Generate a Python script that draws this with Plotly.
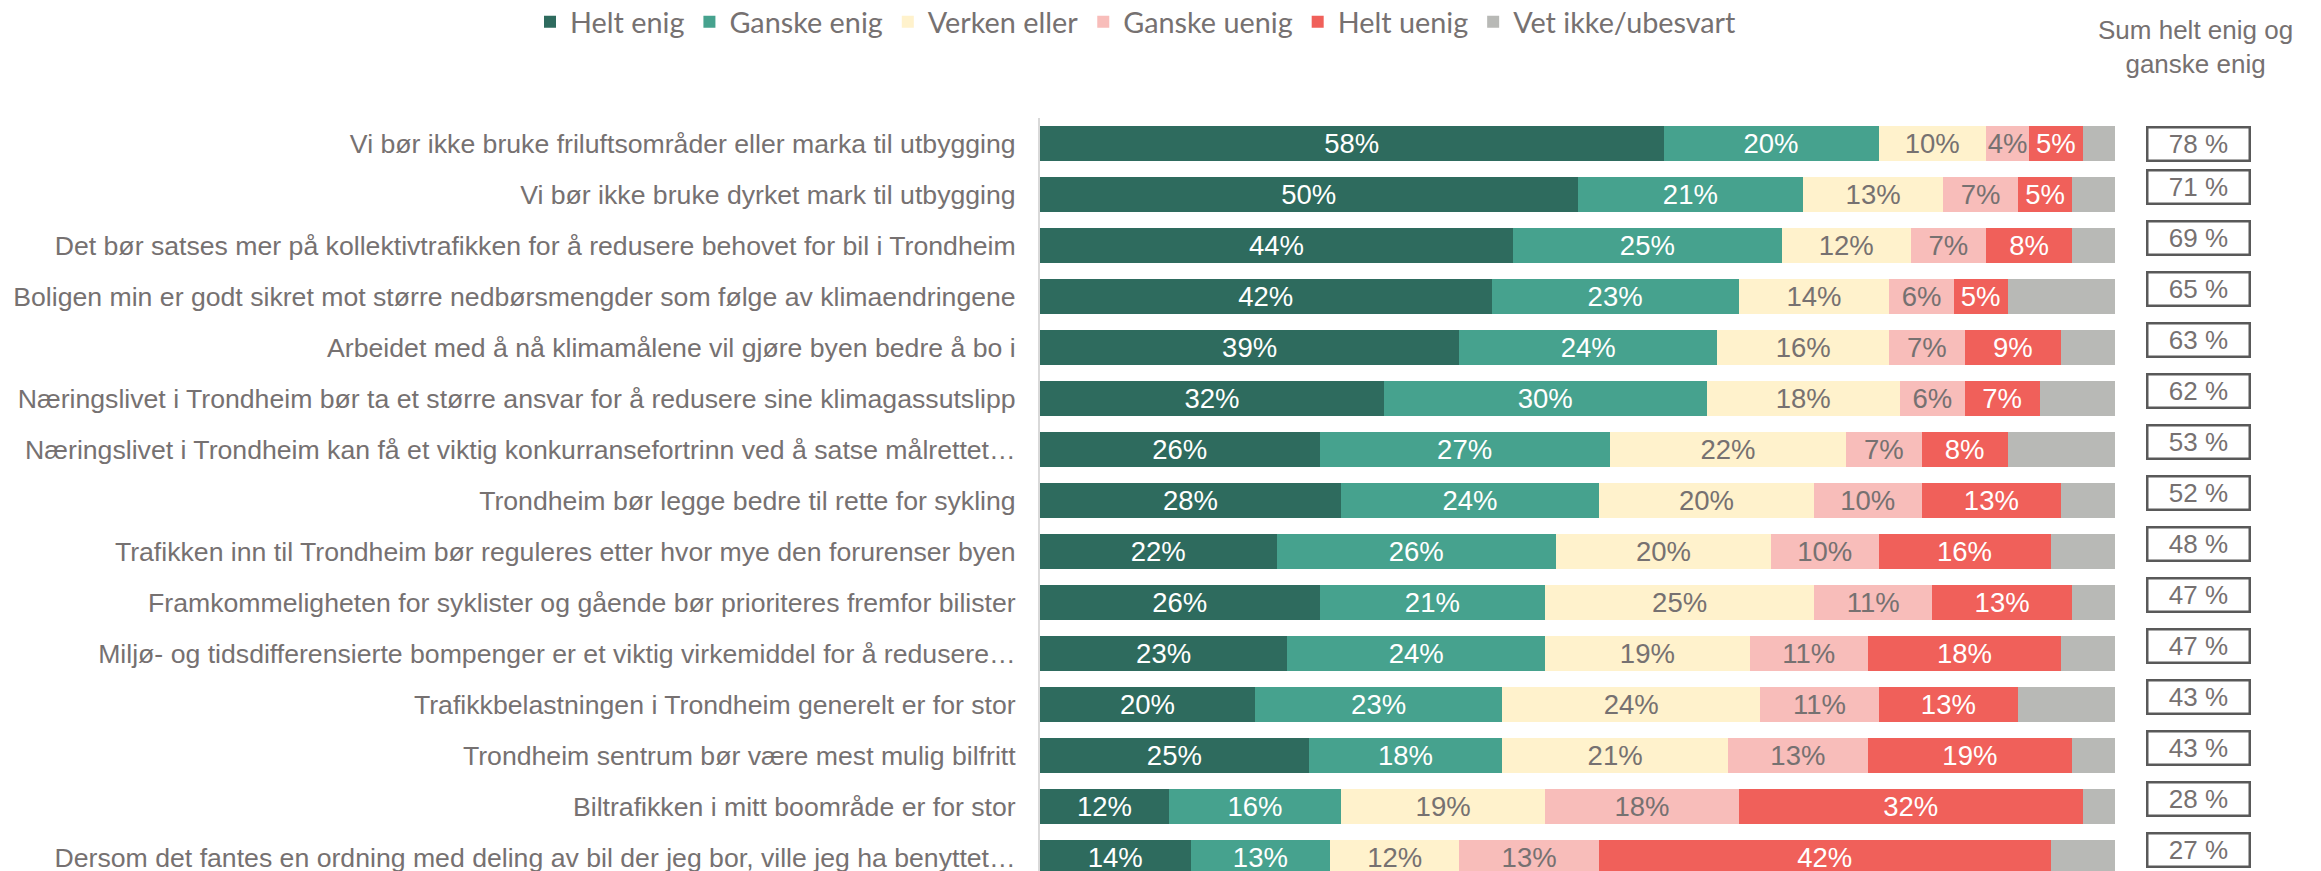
import plotly.graph_objects as go

categories = [
    "Vi bør ikke bruke friluftsområder eller marka til utbygging",
    "Vi bør ikke bruke dyrket mark til utbygging",
    "Det bør satses mer på kollektivtrafikken for å redusere behovet for bil i Trondheim",
    "Boligen min er godt sikret mot større nedbørsmengder som følge av klimaendringene",
    "Arbeidet med å nå klimamålene vil gjøre byen bedre å bo i",
    "Næringslivet i Trondheim bør ta et større ansvar for å redusere sine klimagassutslipp",
    "Næringslivet i Trondheim kan få et viktig konkurransefortrinn ved å satse målrettet…",
    "Trondheim bør legge bedre til rette for sykling",
    "Trafikken inn til Trondheim bør reguleres etter hvor mye den forurenser byen",
    "Framkommeligheten for syklister og gående bør prioriteres fremfor bilister",
    "Miljø- og tidsdifferensierte bompenger er et viktig virkemiddel for å redusere…",
    "Trafikkbelastningen i Trondheim generelt er for stor",
    "Trondheim sentrum bør være mest mulig bilfritt",
    "Biltrafikken i mitt boområde er for stor",
    "Dersom det fantes en ordning med deling av bil der jeg bor, ville jeg ha benyttet…",
]

helt_enig = [58, 50, 44, 42, 39, 32, 26, 28, 22, 26, 23, 20, 25, 12, 14]
ganske_enig = [20, 21, 25, 23, 24, 30, 27, 24, 26, 21, 24, 23, 18, 16, 13]
verken_eller = [10, 13, 12, 14, 16, 18, 22, 20, 20, 25, 19, 24, 21, 19, 12]
ganske_uenig = [4, 7, 7, 6, 7, 6, 7, 10, 10, 11, 11, 11, 13, 18, 13]
helt_uenig = [5, 5, 8, 5, 9, 7, 8, 13, 16, 13, 18, 13, 19, 32, 42]
vet_ikke = [3, 4, 4, 10, 5, 7, 10, 5, 6, 4, 5, 9, 4, 3, 6]
sum_enig = [78, 71, 69, 65, 63, 62, 53, 52, 48, 47, 47, 43, 43, 28, 27]

series = [
    ("Helt enig", helt_enig, "#2E6B5E", "white", True),
    ("Ganske enig", ganske_enig, "#46A28E", "white", True),
    ("Verken eller", verken_eller, "#FFF2CC", "#767171", True),
    ("Ganske uenig", ganske_uenig, "#F8BDBA", "#767171", True),
    ("Helt uenig", helt_uenig, "#F0605A", "white", True),
    ("Vet ikke/ubesvart", vet_ikke, "#B8B9B6", "white", False),
]

W, H = 2321, 871
L, R, T, B = 1040, 206, 118, 0
GRAY = "#767171"
plot_w = W - L - R
plot_h = H - T - B

fig = go.Figure()
for name, vals, color, tcolor, show_text in series:
    fig.add_trace(go.Bar(
        name=name,
        y=categories,
        x=vals,
        orientation="h",
        marker=dict(color=color, line=dict(width=0)),
        text=[f"{v}%" for v in vals] if show_text else None,
        textposition="inside" if show_text else "none",
        insidetextanchor="middle",
        textangle=0,
        textfont=dict(family="Liberation Sans, Arial, sans-serif", size=27.5, color=tcolor),
        hoverinfo="skip",
    ))

annotations = []
for i, (cat, s) in enumerate(zip(categories, sum_enig)):
    annotations.append(dict(
        x=1 + (2198 - (L + plot_w)) / plot_w, xref="paper",
        y=cat, yref="y", yshift=0 if i == 0 else 8,
        text=f"{s} %", showarrow=False,
        font=dict(family="Liberation Sans, Arial, sans-serif", size=26, color=GRAY),
        bordercolor="#595959", borderwidth=2.5, borderpad=0,
        bgcolor="white", width=100, height=31,
        xanchor="center", yanchor="middle",
    ))

annotations.append(dict(
    x=1 + (2195 - (L + plot_w)) / plot_w, xref="paper",
    y=1 + (T - 47) / plot_h, yref="paper",
    text="Sum helt enig og<br>ganske enig", showarrow=False,
    font=dict(family="Liberation Sans, Arial, sans-serif", size=26, color=GRAY),
    xanchor="center", yanchor="middle", align="center",
))

fig.update_layout(
    width=W, height=H,
    margin=dict(l=L, r=R, t=T, b=B, pad=0, autoexpand=False),
    barmode="stack",
    bargap=0.333,
    plot_bgcolor="white",
    paper_bgcolor="white",
    uniformtext=dict(mode="show", minsize=27),
    showlegend=True,
    legend=dict(
        orientation="h",
        xref="paper", yref="paper",
        x=(530 - L) / plot_w, xanchor="left",
        y=1 + (T - 22) / plot_h, yanchor="middle",
        font=dict(family="Lato, Liberation Sans, sans-serif", size=28.8, color=GRAY),
        itemclick=False, itemdoubleclick=False,
        traceorder="normal",
        bgcolor="rgba(0,0,0,0)",
    ),
    annotations=annotations,
    xaxis=dict(visible=False, range=[0, 100], fixedrange=True),
    yaxis=dict(
        type="category",
        categoryorder="array", categoryarray=categories,
        range=[-0.5 + plot_h / 51.0, -0.5],
        showline=True, linecolor="#D9D9D9", linewidth=2,
        showgrid=False, zeroline=False,
        ticks="outside", ticklen=17, tickcolor="rgba(0,0,0,0)",
        tickfont=dict(family="Liberation Sans, Arial, sans-serif", size=26.65, color=GRAY),
        fixedrange=True,
    ),
)

fig.write_html(
    "out.html",
    config={"displayModeBar": False},
    post_script="document.body.style.margin='0';",
)
